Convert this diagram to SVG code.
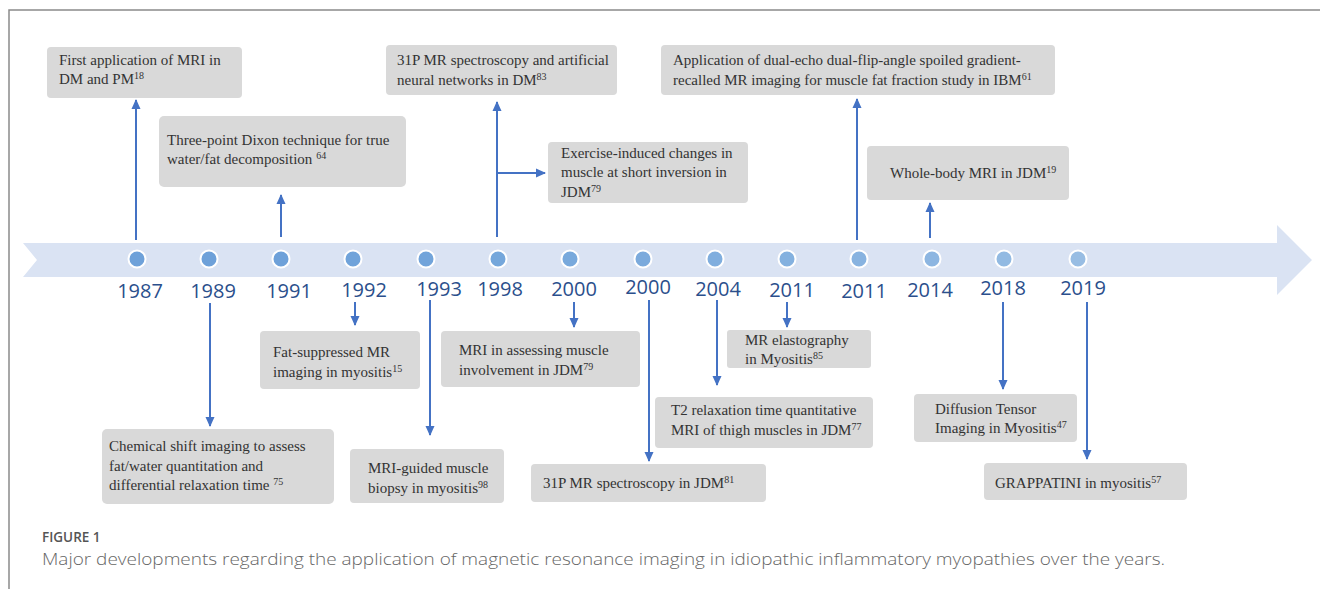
<svg xmlns="http://www.w3.org/2000/svg" width="1320" height="589" viewBox="0 0 1320 589">
<defs>
<marker id="ah" markerUnits="userSpaceOnUse" markerWidth="10" markerHeight="10" viewBox="0 0 10 10" refX="9" refY="5" orient="auto">
<path d="M0,0.5 L10,5 L0,9.5 z" fill="#4472c4"/>
</marker>
<style>
.box{fill:#d9d9d9}
.t{font-family:"Liberation Serif",serif;font-size:15px;fill:#333}
.sup{font-size:10px}
.yr{font-family:"Open Sans","DejaVu Sans",sans-serif;font-size:20px;fill:#2b4f8c;text-anchor:middle}
.dot{stroke:#fff;stroke-width:2}
.c{stroke:#4472c4;stroke-width:2;fill:none;marker-end:url(#ah)}
</style>
</defs>
<rect width="1320" height="589" fill="#fff"/>
<path d="M9,589 V10 H1320" fill="none" stroke="#8a8a8a" stroke-width="1.5"/>

<g id="timeline">
<path d="M23,243 H1277 V225 L1312,260 L1277,295 V277 H23 L37,260 Z" fill="#dae3f3"/>
<circle class="dot" cx="137" cy="259" r="8.5" fill="#6ea1d9"/>
<circle class="dot" cx="209" cy="259" r="8.5" fill="#6ea1d9"/>
<circle class="dot" cx="281" cy="259" r="8.5" fill="#6ea1d9"/>
<circle class="dot" cx="353" cy="259" r="8.5" fill="#70a3da"/>
<circle class="dot" cx="426" cy="259" r="8.5" fill="#72a4da"/>
<circle class="dot" cx="498" cy="259" r="8.5" fill="#75a7db"/>
<circle class="dot" cx="570" cy="259" r="8.5" fill="#78a9dc"/>
<circle class="dot" cx="643" cy="259" r="8.5" fill="#7baadc"/>
<circle class="dot" cx="715" cy="259" r="8.5" fill="#80aede"/>
<circle class="dot" cx="787" cy="259" r="8.5" fill="#84b1df"/>
<circle class="dot" cx="859" cy="259" r="8.5" fill="#88b3e0"/>
<circle class="dot" cx="932" cy="259" r="8.5" fill="#8db6e1"/>
<circle class="dot" cx="1004" cy="259" r="8.5" fill="#92bae2"/>
<circle class="dot" cx="1078" cy="259" r="8.5" fill="#98bde3"/>
<text class="yr" x="140" y="298">1987</text>
<text class="yr" x="213" y="298">1989</text>
<text class="yr" x="289" y="298">1991</text>
<text class="yr" x="364" y="297">1992</text>
<text class="yr" x="439" y="296">1993</text>
<text class="yr" x="500" y="296">1998</text>
<text class="yr" x="574" y="296">2000</text>
<text class="yr" x="648" y="294">2000</text>
<text class="yr" x="718" y="296">2004</text>
<text class="yr" x="792" y="297">2011</text>
<text class="yr" x="864" y="298">2011</text>
<text class="yr" x="930" y="297">2014</text>
<text class="yr" x="1003" y="295">2018</text>
<text class="yr" x="1083" y="295">2019</text>
</g>

<g id="connectors">
<path class="c" d="M136,240 V100"/>
<path class="c" d="M281,237 V195"/>
<path class="c" d="M497,237 V102"/>
<path class="c" d="M497,173 H545"/>
<path class="c" d="M857,240 V99"/>
<path class="c" d="M930,238 V203"/>
<path class="c" d="M210,303 V426"/>
<path class="c" d="M355,302 V325"/>
<path class="c" d="M430,300 V435"/>
<path class="c" d="M574,302 V327"/>
<path class="c" d="M649,300 V461"/>
<path class="c" d="M717,300 V385"/>
<path class="c" d="M787,302 V327"/>
<path class="c" d="M1003,302 V389"/>
<path class="c" d="M1087,302 V459"/>
</g>

<g id="n1987"><rect class="box" x="47" y="47" width="195" height="51" rx="4"/>
<text class="t" x="59" y="65">First application of MRI in</text>
<text class="t" x="59" y="84">DM and PM<tspan class="sup" dy="-5">18</tspan></text></g>

<g id="n1991"><rect class="box" x="159" y="116" width="247" height="71" rx="5"/>
<text class="t" x="167" y="145">Three-point Dixon technique for true</text>
<text class="t" x="167" y="164">water/fat decomposition <tspan class="sup" dy="-5">64</tspan></text></g>

<g id="n1998a"><rect class="box" x="386" y="45" width="231" height="50" rx="4"/>
<text class="t" x="397" y="65">31P MR spectroscopy and artificial</text>
<text class="t" x="397" y="85">neural networks  in DM<tspan class="sup" dy="-5">83</tspan></text></g>

<g id="n1998b"><rect class="box" x="548" y="142" width="200" height="61" rx="4"/>
<text class="t" x="561" y="158">Exercise-induced changes in</text>
<text class="t" x="561" y="177">muscle at short inversion in</text>
<text class="t" x="561" y="197">JDM<tspan class="sup" dy="-5">79</tspan></text></g>

<g id="n2011b"><rect class="box" x="661" y="45" width="394" height="50" rx="4"/>
<text class="t" x="673" y="65">Application of dual-echo dual-flip-angle spoiled gradient-</text>
<text class="t" x="673" y="85">recalled MR imaging for muscle fat fraction study in IBM<tspan class="sup" dy="-5">61</tspan></text></g>

<g id="n2014"><rect class="box" x="867" y="146" width="202" height="54" rx="4"/>
<text class="t" x="890" y="178">Whole-body MRI in JDM<tspan class="sup" dy="-5">19</tspan></text></g>

<g id="n1992"><rect class="box" x="260" y="331" width="160" height="58" rx="4"/>
<text class="t" x="273" y="357">Fat-suppressed MR</text>
<text class="t" x="273" y="377">imaging in myositis<tspan class="sup" dy="-5">15</tspan></text></g>

<g id="n2000a"><rect class="box" x="441" y="331" width="199" height="56" rx="4"/>
<text class="t" x="459" y="355">MRI in assessing muscle</text>
<text class="t" x="459" y="375">involvement in JDM<tspan class="sup" dy="-5">79</tspan></text></g>

<g id="n2011a"><rect class="box" x="727" y="330" width="144" height="38" rx="3"/>
<text class="t" x="745" y="345">MR elastography</text>
<text class="t" x="745" y="364">in Myositis<tspan class="sup" dy="-5">85</tspan></text></g>

<g id="n2004"><rect class="box" x="655" y="397" width="218" height="51" rx="4"/>
<text class="t" x="671" y="415">T2 relaxation time quantitative</text>
<text class="t" x="671" y="435">MRI of thigh muscles in JDM<tspan class="sup" dy="-5">77</tspan></text></g>

<g id="n2018"><rect class="box" x="914" y="394" width="163" height="48" rx="4"/>
<text class="t" x="935" y="414">Diffusion Tensor</text>
<text class="t" x="935" y="433">Imaging in Myositis<tspan class="sup" dy="-5">47</tspan></text></g>

<g id="n1989"><rect class="box" x="102" y="429" width="232" height="75" rx="5"/>
<text class="t" x="109" y="451">Chemical shift imaging to assess</text>
<text class="t" x="109" y="471">fat/water quantitation and</text>
<text class="t" x="109" y="490">differential relaxation time <tspan class="sup" dy="-5">75</tspan></text></g>

<g id="n1993"><rect class="box" x="350" y="449" width="154" height="54" rx="4"/>
<text class="t" x="368" y="473">MRI-guided muscle</text>
<text class="t" x="368" y="493">biopsy in myositis<tspan class="sup" dy="-5">98</tspan></text></g>

<g id="n2000b"><rect class="box" x="531" y="464" width="235" height="38" rx="4"/>
<text class="t" x="543" y="488">31P MR spectroscopy in JDM<tspan class="sup" dy="-5">81</tspan></text></g>

<g id="n2019"><rect class="box" x="984" y="463" width="203" height="37" rx="4"/>
<text class="t" x="995" y="488">GRAPPATINI in myositis<tspan class="sup" dy="-5">57</tspan></text></g>

<g id="caption">
<text x="42" y="542" font-family="'Open Sans',sans-serif" font-size="13.5" font-weight="600" fill="#555">FIGURE 1</text>
<text x="42" y="565" font-family="'Open Sans',sans-serif" font-size="17" font-weight="300" fill="#666" textLength="1123" lengthAdjust="spacingAndGlyphs">Major developments regarding the application of magnetic resonance imaging in idiopathic inflammatory myopathies over the years.</text>
</g>
</svg>
